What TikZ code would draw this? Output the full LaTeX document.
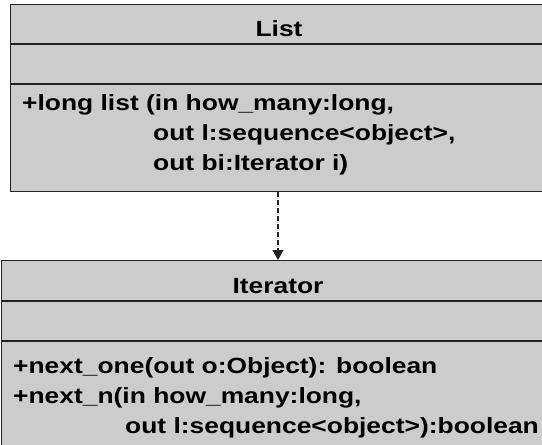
\documentclass[tikz,border=0pt]{standalone}
\usepackage{fontspec}
\newfontfamily\umlfont{Liberation Sans}[FakeStretch=1.2]
\usetikzlibrary{arrows.meta}
\definecolor{boxfill}{HTML}{CCCCCC}
\definecolor{edge}{HTML}{222222}
\tikzset{
  classbox/.style={draw=edge, fill=boxfill, line width=1.3pt, inner sep=0pt, anchor=north west},
  sepline/.style={draw=edge, line width=1.3pt},
  member/.style={anchor=base west, inner sep=0pt, font=\umlfont\bfseries\fontsize{22}{22}\selectfont},
  title/.style={anchor=base, inner sep=0pt, font=\umlfont\bfseries\fontsize{22}{22}\selectfont},
  depend/.style={draw=edge, line width=1.1pt, dash pattern=on 5pt off 3pt,
    -{Triangle[length=10pt,width=11pt]}}
}
\begin{document}
\begin{tikzpicture}[x=1pt,y=-1pt]
  \useasboundingbox (0,0) rectangle (542,445);
  \clip (0,0) rectangle (542,445);

  % class List
  \node[classbox, minimum width=560pt, minimum height=187pt] (list) at (10,4) {};
  \draw[sepline] (10,44) -- ++(560,0);
  \draw[sepline] (10,84) -- ++(560,0);
  \node[title] (listname) at (279,36) {List};
  \node[member] (l1) at (22,110) {+long list (in how\_many:long,};
  \node[member] (l2) at (153,140) {out l:sequence<object>,};
  \node[member] (l3) at (153,170) {out bi:Iterator i)};

  % class Iterator
  \node[classbox, minimum width=600pt, minimum height=220pt] (iter) at (1,260) {};
  \draw[sepline] (1,301) -- ++(600,0);
  \draw[sepline] (1,341) -- ++(600,0);
  \node[title] (itername) at (278,293) {Iterator};
  \node[member] (i1) at (13,373) {+next\_one(out o:Object): boolean};
  \node[member] (i2) at (13,403) {+next\_n(in how\_many:long,};
  \node[member] (i3) at (125,433) {out l:sequence<object>):boolean};

  % dependency
  \coordinate (ax) at (278,0);
  \draw[depend] (list.south -| ax) -- (iter.north -| ax);
\end{tikzpicture}
\end{document}
